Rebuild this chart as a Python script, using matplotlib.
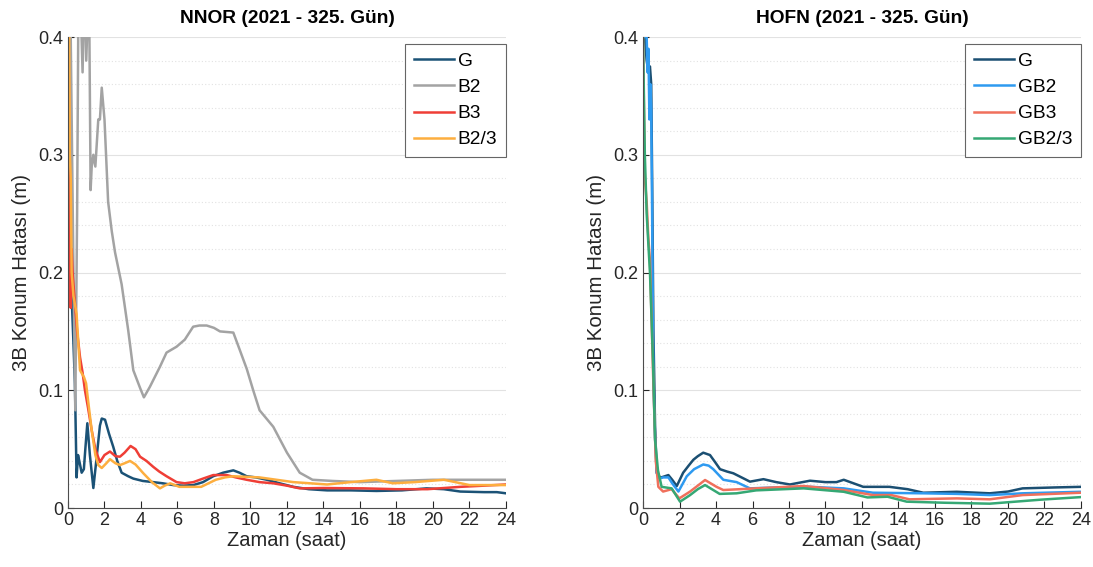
import numpy as np
import matplotlib.pyplot as plt
from matplotlib.ticker import MultipleLocator, FuncFormatter

plt.rcParams['font.family'] = ['Liberation Sans', 'DejaVu Sans']

# NNOR (left panel)
nnor_g_t = [0, 0.1, 0.2, 0.3, 0.38, 0.47, 0.55, 0.62, 0.75, 0.87, 0.95, 1.06, 1.2, 1.39, 1.55, 1.75,
            1.85, 2.03, 2.25, 2.48, 2.7, 2.94, 3.3, 3.58, 4.1, 4.67, 5.2, 5.77, 6.3, 6.87, 7.4, 7.96,
            8.5, 9.06, 9.4, 9.79, 10.3, 10.9, 11.6, 12.35, 13.2, 14.2, 15.5, 16.9, 18.3, 19.65, 20.6,
            21.5, 22.8, 23.5, 24]
nnor_g_v = [0.2, 0.19, 0.18, 0.14, 0.106, 0.026, 0.045, 0.04, 0.03, 0.033, 0.05, 0.072, 0.045, 0.017,
            0.04, 0.07, 0.076, 0.075, 0.063, 0.052, 0.04, 0.03, 0.027, 0.025, 0.023, 0.022, 0.021,
            0.0195, 0.019, 0.0195, 0.022, 0.027, 0.03, 0.032, 0.030, 0.027, 0.026, 0.024, 0.021, 0.018,
            0.016, 0.015, 0.015, 0.0145, 0.015, 0.0167, 0.016, 0.014, 0.0135, 0.0135, 0.0125]

nnor_b2_t = [0, 0.15, 0.3, 0.4, 0.5, 0.58, 0.65, 0.8, 0.9, 1.0, 1.15, 1.24, 1.3, 1.39, 1.5, 1.66,
             1.75, 1.85, 2.0, 2.2, 2.4, 2.58, 2.94, 3.3, 3.58, 3.95, 4.16, 4.49, 5.04, 5.4, 5.95, 6.4,
             6.86, 7.2, 7.6, 8.0, 8.33, 9.06, 9.42, 9.8, 10.15, 10.5, 11.25, 12.0, 12.7, 13.4, 14.5,
             16, 18, 20, 22, 24]
nnor_b2_v = [0.45, 0.4, 0.2, 0.083, 0.25, 0.45, 0.45, 0.37, 0.45, 0.38, 0.45, 0.27, 0.29, 0.30, 0.29,
             0.33, 0.33, 0.357, 0.33, 0.26, 0.235, 0.217, 0.19, 0.151, 0.117, 0.102, 0.094, 0.103,
             0.12, 0.132, 0.137, 0.143, 0.154, 0.155, 0.155, 0.153, 0.15, 0.149, 0.134, 0.118, 0.1,
             0.083, 0.069, 0.047, 0.03, 0.024, 0.023, 0.022, 0.023, 0.024, 0.024, 0.024]

nnor_b3_t = [0, 0.05, 0.1, 0.15, 0.2, 0.25, 0.35, 0.5, 0.66, 0.8, 0.93, 1.1, 1.3, 1.5, 1.75, 2.0,
             2.3, 2.6, 2.85, 3.1, 3.43, 3.7, 3.95, 4.3, 4.67, 5.0, 5.4, 5.95, 6.4, 6.87, 7.4, 7.96,
             8.7, 9.2, 9.79, 10.5, 11.25, 12.0, 12.7, 14.0, 16.2, 18.0, 19.7, 20.6, 21.5, 22.8, 24]
nnor_b3_v = [0.4, 0.36, 0.23, 0.17, 0.22, 0.2, 0.18, 0.15, 0.128, 0.115, 0.1, 0.085, 0.066, 0.05,
             0.039, 0.045, 0.048, 0.044, 0.0436, 0.047, 0.0527, 0.05, 0.0436, 0.04, 0.035, 0.031,
             0.027, 0.022, 0.021, 0.022, 0.025, 0.028, 0.028, 0.026, 0.024, 0.022, 0.021, 0.019,
             0.0167, 0.017, 0.0167, 0.016, 0.016, 0.017, 0.018, 0.019, 0.020]

nnor_b23_t = [0, 0.05, 0.1, 0.15, 0.2, 0.3, 0.47, 0.66, 0.88, 0.99, 1.15, 1.3, 1.5, 1.66, 1.85, 2.1,
              2.3, 2.6, 2.85, 3.1, 3.4, 3.7, 4.13, 4.6, 5.04, 5.3, 5.6, 6.1, 6.7, 7.3, 8.1, 8.6, 9.06,
              10.5, 12.35, 14.2, 15.5, 16.9, 17.8, 19.0, 20.6, 22.0, 24]
nnor_b23_v = [0.45, 0.45, 0.3, 0.28, 0.2, 0.18, 0.165, 0.117, 0.111, 0.106, 0.085, 0.066, 0.045,
              0.0365, 0.034, 0.038, 0.0415, 0.038, 0.0365, 0.038, 0.040, 0.037, 0.0295, 0.022,
              0.0167, 0.019, 0.021, 0.018, 0.018, 0.018, 0.024, 0.026, 0.027, 0.026, 0.022, 0.020,
              0.022, 0.024, 0.021, 0.022, 0.024, 0.0195, 0.0195]

# HOFN (right panel)
hofn_g_t = [0, 0.1, 0.2, 0.3, 0.38, 0.45, 0.5, 0.57, 0.66, 0.75, 0.85, 1.0, 1.2, 1.39, 1.6, 1.85,
            2.2, 2.5, 2.76, 3.0, 3.3, 3.67, 3.95, 4.22, 4.6, 4.95, 5.4, 5.86, 6.6, 7.3, 8.05, 9.15,
            10.0, 10.6, 11.0, 12.07, 13.5, 14.5, 15.36, 17.2, 19.0, 20.0, 20.8, 22.6, 24]
hofn_g_v = [0.4, 0.4, 0.38, 0.37, 0.375, 0.36, 0.28, 0.15, 0.07, 0.03, 0.027, 0.026, 0.027, 0.028,
            0.024, 0.0187, 0.03, 0.036, 0.041, 0.044, 0.047, 0.045, 0.039, 0.033, 0.031, 0.0295,
            0.026, 0.0224, 0.0245, 0.022, 0.020, 0.0232, 0.022, 0.022, 0.024, 0.018, 0.018, 0.016,
            0.013, 0.0138, 0.0125, 0.014, 0.0167, 0.0175, 0.018]

hofn_gb2_t = [0, 0.1, 0.2, 0.25, 0.3, 0.35, 0.4, 0.45, 0.5, 0.57, 0.66, 0.75, 0.9, 1.1, 1.39, 1.6,
              1.94, 2.4, 2.8, 3.3, 3.6, 3.85, 4.4, 5.13, 5.86, 7.3, 9.15, 11.0, 12.6, 15.4, 17.2,
              19.0, 20.8, 24]
hofn_gb2_v = [0.4, 0.4, 0.4, 0.37, 0.39, 0.33, 0.36, 0.34, 0.25, 0.109, 0.06, 0.03, 0.025, 0.026,
              0.026, 0.021, 0.014, 0.027, 0.033, 0.037, 0.036, 0.033, 0.024, 0.022, 0.0167, 0.0175,
              0.018, 0.0167, 0.013, 0.0125, 0.012, 0.011, 0.0125, 0.0138]

hofn_gb3_t = [0, 0.1, 0.2, 0.29, 0.38, 0.47, 0.57, 0.7, 0.84, 1.1, 1.57, 1.99, 2.58, 3.0, 3.4, 4.03,
              4.4, 6.2, 8.8, 11.0, 12.6, 13.6, 14.6, 17.2, 19.0, 20.8, 24]
hofn_gb3_v = [0.4, 0.28, 0.26, 0.23, 0.21, 0.16, 0.104, 0.04, 0.018, 0.014, 0.016, 0.0082, 0.014,
              0.019, 0.0238, 0.018, 0.0153, 0.0167, 0.0187, 0.0153, 0.011, 0.011, 0.0074, 0.0082,
              0.0074, 0.011, 0.013]

hofn_gb23_t = [0, 0.1, 0.2, 0.29, 0.38, 0.47, 0.55, 0.66, 0.82, 1.02, 1.57, 2.03, 2.58, 3.0, 3.4,
               4.2, 5.13, 6.2, 8.8, 11.0, 12.3, 13.4, 14.45, 16.5, 19.0, 21.8, 24]
hofn_gb23_v = [0.4, 0.3, 0.25, 0.225, 0.2, 0.16, 0.123, 0.058, 0.032, 0.018, 0.0167, 0.0054, 0.011,
               0.016, 0.0195, 0.012, 0.0125, 0.015, 0.0167, 0.0138, 0.009, 0.0096, 0.0054, 0.0045,
               0.0037, 0.0071, 0.0093]

left_series = [(nnor_g_t, nnor_g_v, 'G', '#1b5276'),
               (nnor_b2_t, nnor_b2_v, 'B2', '#a3a3a3'),
               (nnor_b3_t, nnor_b3_v, 'B3', '#ef3e36'),
               (nnor_b23_t, nnor_b23_v, 'B2/3', '#fdae3f')]
right_series = [(hofn_g_t, hofn_g_v, 'G', '#1b4f72'),
                (hofn_gb2_t, hofn_gb2_v, 'GB2', '#2e9af0'),
                (hofn_gb3_t, hofn_gb3_v, 'GB3', '#f0705c'),
                (hofn_gb23_t, hofn_gb23_v, 'GB2/3', '#35a874')]

fig = plt.figure(figsize=(10.93, 5.67), dpi=100)
ax1 = fig.add_axes([0.0622, 0.104, 0.4007, 0.8307])
ax2 = fig.add_axes([0.5883, 0.104, 0.4007, 0.8307])

for ax, series, title in [(ax1, left_series, 'NNOR (2021 - 325. Gün)'),
                          (ax2, right_series, 'HOFN (2021 - 325. Gün)')]:
    for t, v, lab, col in series:
        ax.plot(t, v, color=col, lw=1.8, label=lab)
    ax.set_xlim(0, 24)
    ax.set_ylim(0, 0.4)
    ax.xaxis.set_major_locator(MultipleLocator(2))
    ax.yaxis.set_major_locator(MultipleLocator(0.1))
    ax.yaxis.set_minor_locator(MultipleLocator(0.02))
    ax.yaxis.set_major_formatter(FuncFormatter(lambda y, p: '0' if abs(y) < 1e-9 else f'{y:.1f}'))
    ax.grid(True, which='major', axis='y', color='#e2e2e2', lw=0.8)
    ax.grid(True, which='minor', axis='y', color='#e2e2e2', lw=0.8, ls=(0, (1, 2)))
    ax.set_axisbelow(True)
    ax.tick_params(which='both', direction='in', labelsize=13, colors='#262626')
    ax.tick_params(which='minor', left=False)
    ax.tick_params(axis='y', length=4)
    ax.tick_params(axis='x', length=5, pad=3)
    for s in ['top', 'right']:
        ax.spines[s].set_visible(False)
    for s in ['left', 'bottom']:
        ax.spines[s].set_color('#4d4d4d')
        ax.spines[s].set_linewidth(0.8)
    ax.set_title(title, fontsize=13.8, fontweight='bold', pad=10)
    ax.set_xlabel('Zaman (saat)', fontsize=14.4, labelpad=1, color='#262626')
    ax.set_ylabel('3B Konum Hatası (m)', fontsize=14.8, labelpad=5, color='#262626')
    leg = ax.legend(loc='upper right', bbox_to_anchor=(1.0, 0.985), fontsize=13.8,
                    handlelength=2.1, handletextpad=0.2, labelspacing=0.45, borderpad=0.45,
                    fancybox=False, framealpha=1, borderaxespad=0)
    leg.get_frame().set_edgecolor('#666666')
    leg.get_frame().set_linewidth(0.8)

fig.savefig('out.png', dpi=100)
